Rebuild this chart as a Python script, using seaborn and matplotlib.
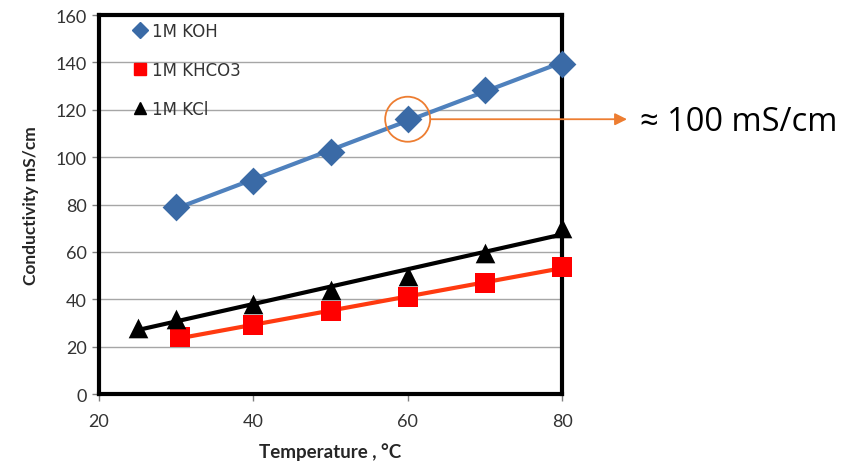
import matplotlib.pyplot as plt
import seaborn as sns
import numpy as np
import pandas as pd
from matplotlib.lines import Line2D

# conductivity vs temperature
koh_t = [30, 40, 50, 60, 70, 80]
koh_k = [79, 90, 102, 116, 128.5, 139.5]
khco3_t = [30.5, 40, 50, 60, 70, 80]
khco3_k = [24, 29, 35, 41, 47, 53.5]
kcl_t = [25, 30, 40, 50, 60, 70, 80]
kcl_k = [28, 31.5, 38, 44, 50, 59.5, 70]

series = [
    ('1M KOH', koh_t, koh_k, 'D', '#3A6AA6', '#4F81BD', 200),
    ('1M KHCO3', khco3_t, khco3_k, 's', '#FF0000', '#FF3A10', 210),
    ('1M KCl', kcl_t, kcl_k, '^', '#000000', '#000000', 200),
]

sns.set_style('white')
plt.rcParams['font.family'] = ['Lato', 'DejaVu Sans']

fig = plt.figure(figsize=(8.57, 4.64), dpi=100)
ax = fig.add_axes([0.1155, 0.1487, 0.5403, 0.8168])

handles = []
for name, t, k, mk, mcol, lcol, msize in series:
    slope, icpt = np.polyfit(t, k, 1)
    fit_df = pd.DataFrame({'t': [min(t), max(t)]})
    fit_df['k'] = slope * fit_df['t'] + icpt
    sns.lineplot(data=fit_df, x='t', y='k', ax=ax, color=lcol, lw=3, zorder=3)
    df = pd.DataFrame({'t': t, 'k': k})
    sns.scatterplot(data=df, x='t', y='k', ax=ax, marker=mk, color=mcol,
                    s=msize, edgecolor=mcol, linewidth=0, zorder=4, clip_on=False)
    handles.append(Line2D([], [], marker=mk, color=mcol, ls='', markersize=8.5, label=name))

ax.set_xlim(20, 80)
ax.set_ylim(0, 160)
ax.set_xticks([20, 40, 60, 80])
ax.set_yticks(np.arange(0, 161, 20))
ax.yaxis.grid(True, color='#A6A6A6', lw=1)
ax.set_axisbelow(True)
for s in ax.spines.values():
    s.set_linewidth(3)
    s.set_color('black')
ax.tick_params(axis='both', which='major', length=5, width=1, color='#808080',
               direction='out', left=True, bottom=True, labelsize=13, labelcolor='#333333')
ax.tick_params(axis='x', pad=9)
ax.tick_params(axis='y', pad=4)
ax.set_xlabel('Temperature , °C', fontsize=13.5, fontweight='bold', labelpad=9)
ax.set_ylabel('Conductivity mS/cm', fontsize=12.5, fontweight='bold', labelpad=12)

leg = ax.legend(handles=handles, loc='upper left', frameon=False,
                prop={'family': ['DejaVu Sans'], 'size': 12},
                labelspacing=1.25, handletextpad=0.0, handlelength=1.4,
                borderaxespad=0.3, bbox_to_anchor=(0.038, 1.012))
for txt in leg.get_texts():
    txt.set_color('#333333')

# highlight the 60 °C KOH point
i60 = koh_t.index(60)
ax.scatter([koh_t[i60]], [koh_k[i60]], s=1050, facecolors='none',
           edgecolors='#ED7D31', linewidths=1.3, zorder=5)
ax.annotate('', xy=(627 / 857, koh_k[i60]), xycoords=('figure fraction', 'data'),
            xytext=(koh_t[i60], koh_k[i60]), textcoords='data',
            arrowprops=dict(arrowstyle='-|>', color='#ED7D31', lw=1.3,
                            shrinkA=16.5, shrinkB=0, mutation_scale=18),
            annotation_clip=False)
ax.annotate('≈ 100 mS/cm', xy=(640 / 857, koh_k[i60] - 0.8), xycoords=('figure fraction', 'data'),
            fontsize=23.5, va='center', ha='left', color='black', annotation_clip=False,
            family=['Open Sans', 'DejaVu Sans'])

fig.savefig('out.png', dpi=100)
